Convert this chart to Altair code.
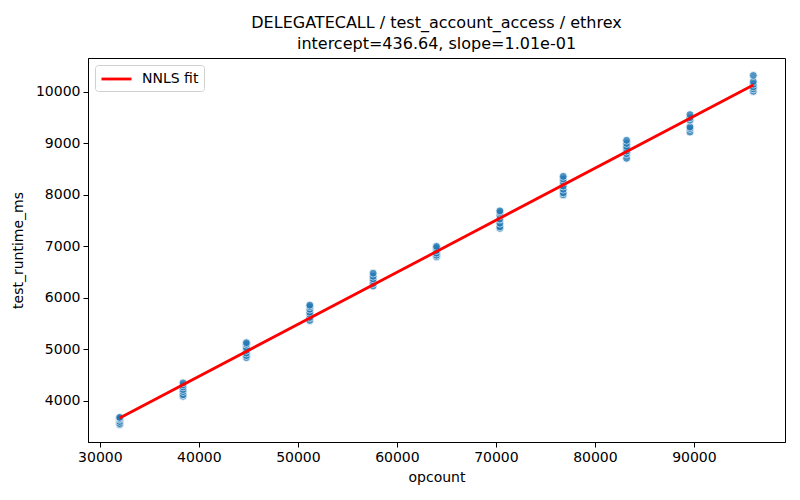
import altair as alt
import pandas as pd

opcounts = [32000, 38400, 44800, 51200, 57600, 64000, 70400, 76800, 83200, 89600, 96000]
runtimes = [
    [3540, 3560, 3600, 3640, 3660, 3680],
    [4090, 4120, 4180, 4220, 4270, 4310, 4350],
    [4840, 4880, 4930, 4980, 5030, 5100, 5130],
    [5560, 5620, 5680, 5720, 5780, 5830, 5860],
    [6230, 6280, 6330, 6370, 6420, 6480],
    [6800, 6830, 6870, 6920, 6970, 7000],
    [7350, 7380, 7450, 7530, 7600, 7660, 7690],
    [8000, 8040, 8110, 8170, 8250, 8310, 8360],
    [8710, 8800, 8850, 8900, 8940, 9000, 9060],
    [9220, 9290, 9320, 9450, 9500, 9560],
    [10010, 10060, 10100, 10150, 10200, 10320],
]
intercept = 436.64
slope = 0.101

rows = []
for x, ys in zip(opcounts, runtimes):
    for y in ys:
        rows.append({"opcount": x, "test_runtime_ms": y})
pts = pd.DataFrame(rows)

fit = pd.DataFrame({
    "opcount": [opcounts[0], opcounts[-1]],
    "test_runtime_ms": [intercept + slope * opcounts[0], intercept + slope * opcounts[-1]],
    "label": ["NNLS fit", "NNLS fit"],
})

FONT = "DejaVu Sans"
xscale = alt.Scale(domain=[28800, 99200], nice=False, zero=False)
yscale = alt.Scale(domain=[3201, 10659], nice=False, zero=False)
xaxis = alt.Axis(title="opcount", values=[30000, 40000, 50000, 60000, 70000, 80000, 90000],
                 format="d", grid=False, titlePadding=6)
yaxis = alt.Axis(title="test_runtime_ms", values=[4000, 5000, 6000, 7000, 8000, 9000, 10000],
                 format="d", grid=False, titlePadding=10)

scatter = alt.Chart(pts).mark_circle(
    size=62, color="#1f77b4", opacity=0.78, stroke="white", strokeWidth=0.8
).encode(
    x=alt.X("opcount:Q", scale=xscale, axis=xaxis),
    y=alt.Y("test_runtime_ms:Q", scale=yscale, axis=yaxis),
)

line = alt.Chart(fit).mark_line(strokeWidth=2.8).encode(
    x=alt.X("opcount:Q", scale=xscale),
    y=alt.Y("test_runtime_ms:Q", scale=yscale),
    color=alt.Color("label:N", scale=alt.Scale(domain=["NNLS fit"], range=["red"]),
                    legend=alt.Legend(title=None, orient="top-left", offset=7,
                                      symbolType="M-1,0H3", symbolSize=225,
                                      symbolStrokeWidth=2.8, labelFontSize=14,
                                      labelFont=FONT, fillColor="white",
                                      strokeColor="#d0d0d0", cornerRadius=3,
                                      padding=5, labelOffset=24)),
)

chart = alt.layer(scatter, line).properties(
    width=697,
    height=384,
    title=alt.TitleParams(
        text=["DELEGATECALL / test_account_access / ethrex", "intercept=436.64, slope=1.01e-01"],
        font=FONT, fontSize=16, fontWeight="normal", color="black",
        anchor="middle", lineHeight=21, offset=6,
    ),
    autosize=alt.AutoSizeParams(type="none"),
    padding={"left": 80, "top": 50, "right": 7, "bottom": 50},
).configure_view(
    stroke="black", strokeWidth=1
).configure_axis(
    labelFont=FONT, titleFont=FONT, labelFontSize=14, titleFontSize=14,
    titleFontWeight="normal", labelColor="black", titleColor="black",
    domainColor="black", tickColor="black", tickSize=5, labelPadding=3,
)

chart.save("out.html", embed_options={"renderer": "svg", "actions": False})
